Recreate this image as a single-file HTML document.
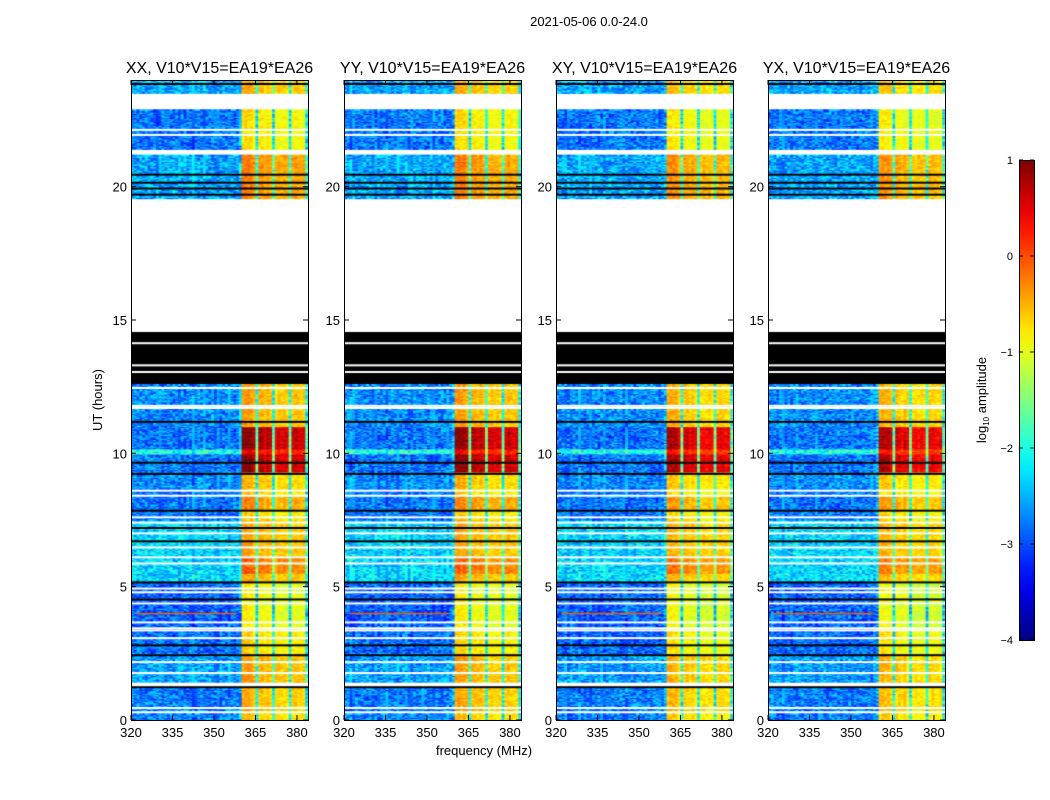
<!DOCTYPE html>
<html><head><meta charset="utf-8"><style>
body{margin:0;background:#fff;width:1050px;height:800px;overflow:hidden;position:relative;font-family:"Liberation Sans",sans-serif}
canvas{position:absolute}
svg{position:absolute;left:0;top:0}
</style></head><body>
<canvas id="c0" width="177" height="640" style="left:131px;top:80px"></canvas>
<canvas id="c1" width="177" height="640" style="left:344px;top:80px"></canvas>
<canvas id="c2" width="177" height="640" style="left:556px;top:80px"></canvas>
<canvas id="c3" width="177" height="640" style="left:768px;top:80px"></canvas>
<svg id="ov" width="1050" height="800"></svg>
<script>
// ---- data ----
const panelTitles = ["XX, V10*V15=EA19*EA26","YY, V10*V15=EA19*EA26","XY, V10*V15=EA19*EA26","YX, V10*V15=EA19*EA26"];
const panelLefts = [131,344,556,768];
const panelGain = [1.0,1.0,0.96,0.95];
// frequency channels 320..383 MHz (1 MHz each): band profile
const freqBand = [0,0,0,0,0,0,0,0,0,0, 0,0,0,0,0,0,0,0,0,0, 0,0,0,0,0,0,0,0,0,0, 0,0,0,0,0,0,0,0,0,0.2,
  2.2,2.25,2.2,2.2,2.1,0.7, 2.1,2.1,2.0,2.1,2.0,0.7, 1.95,2.0,1.95,2.0,1.95,0.7, 2.0,2.05,2.0,1.95,2.0,0.6, 0,0,0,0];
// time segments (hours): start, end, background log-amp, band gain, kind (0 data,1 white,2 black)
const segStart = [0,0.25,0.35,1.23,1.42,2.5,3.4,5.2,5.5,6.1,7.5,7.85,8.4,8.7,9.3,9.98,10.17,11.0,12.6,14.55,19.55,21.2,21.4,22.9,23.5];
const segEnd   = [0.25,0.35,1.23,1.42,2.5,3.4,5.2,5.5,6.1,7.5,7.85,8.4,8.7,9.3,9.98,10.17,11.0,12.6,14.55,19.55,21.2,21.4,22.9,23.5,24];
const segBg    = [-2.75,0,-2.75,0,-2.6,-2.85,-2.9,-2.3,-2.3,-2.3,-2.8,-2.8,-2.8,-2.7,-2.8,-2.0,-2.8,-2.7,0,0,-2.55,0,-2.8,0,-2.55];
const segGain  = [1.0,0,1.05,0,1.0,1.0,0.95,0.85,1.0,0.85,1.0,1.15,1.0,1.0,1.7,1.1,1.7,1.05,0,0,1.05,0,0.95,0,0.95];
const segKind  = [0,1,0,1,0,0,0,0,0,0,0,0,0,0,0,0,0,0,2,1,0,1,0,1,0];
// thin flag lines (hours)
const whiteLines = [0.45,1.76,2.17,3.07,3.36,3.44,3.66,4.37,4.79,4.93,5.87,6.1,6.47,7.0,7.4,7.6,8.41,8.6,11.7,11.78,12.45,13.05,13.3,14.13,21.94,22.13];
const blackLines = [1.23,2.43,2.8,4.52,5.16,6.7,7.2,7.85,9.23,9.65,11.18,19.7,19.93,20.15,20.45,23.85];
const redLines = [4.0];
const xTicks = [320,335,350,365,380];
const yTicks = [0,5,10,15,20];
const cbTicks = [1,0,-1,-2,-3,-4];

// ---- scales ----
const F0=320,F1=384,T0=0,T1=24,PW=177,PH=640,TOP=80;
const xs = f => (f-F0)/(F1-F0)*PW;
const ys = t => PH-(t-T0)/(T1-T0)*PH;
function jet(v){let t=(v+4)/5;t=Math.max(0,Math.min(1,t));
  const r=Math.max(0,Math.min(1,1.5-Math.abs(4*t-3))),g=Math.max(0,Math.min(1,1.5-Math.abs(4*t-2))),b=Math.max(0,Math.min(1,1.5-Math.abs(4*t-1)));
  return `rgb(${r*255|0},${g*255|0},${b*255|0})`;}
function hash(a,b,c){let h=(a*374761393+b*668265263+c*2147483647)|0;h=(h^(h>>>13))*1274126177|0;return ((h^(h>>>16))>>>0)/4294967296;}

for(let p=0;p<4;p++){
  const ctx=document.getElementById('c'+p).getContext('2d');
  const dt=0.05;
  for(let s=0;s<segStart.length;s++){
    const y0=ys(segEnd[s]),y1=ys(segStart[s]);
    if(segKind[s]===1){continue;}
    if(segKind[s]===2){ctx.fillStyle='#000';ctx.fillRect(0,y0,PW,y1-y0);continue;}
    for(let t=segStart[s];t<segEnd[s]-1e-9;t+=dt){
      const te=Math.min(t+dt,segEnd[s]);
      for(let c=0;c<freqBand.length;c++){
        const n=(hash(p,c,Math.round(t*100))-0.5)*1.0;
        const v=segBg[s]+freqBand[c]*segGain[s]*panelGain[p]+n*(freqBand[c]>1?0.4:1);
        ctx.fillStyle=jet(v);
        ctx.fillRect(xs(F0+c),ys(te),xs(F0+c+1)-xs(F0+c)+0.5,ys(t)-ys(te)+0.5);
      }
    }
  }
  ctx.fillStyle='#fff';whiteLines.forEach(h=>ctx.fillRect(0,ys(h)-1,PW,2));
  ctx.fillStyle='#000';blackLines.forEach(h=>ctx.fillRect(0,ys(h)-1,PW,2));
  ctx.fillStyle='#f06000';redLines.forEach(h=>ctx.fillRect(xs(322),ys(h)-0.5,xs(358)-xs(322),1.5));
}

// ---- overlay ----
const NS='http://www.w3.org/2000/svg',ov=document.getElementById('ov');
function el(tag,attrs,txt){const e=document.createElementNS(NS,tag);for(const k in attrs)e.setAttribute(k,attrs[k]);if(txt!==undefined)e.textContent=txt;ov.appendChild(e);return e;}
let e;
e=el('text',{x:589,y:26,'font-size':13,'text-anchor':'middle'},'2021-05-06 0.0-24.0');


e=el('text',{x:102,y:400,'font-size':13,'text-anchor':'middle',transform:'rotate(-90 102 400)'},'UT (hours)');


e=el('text',{x:484,y:755,'font-size':13,'text-anchor':'middle'},'frequency (MHz)');


for(let p=0;p<4;p++){
  const L=panelLefts[p];
  e=el('rect',{x:L+0.5,y:TOP+0.5,width:PW,height:PH,fill:'none',stroke:'#000','stroke-width':1});
  
  
  e=el('text',{x:L+PW/2,y:73,'font-size':16,'text-anchor':'middle'},panelTitles[p]);
  
  
  xTicks.forEach(f=>{const x=L+xs(f);
    el('line',{x1:x,x2:x,y1:TOP+PH,y2:TOP+PH-5,stroke:'#000'});el('line',{x1:x,x2:x,y1:TOP,y2:TOP+5,stroke:'#000'});
    e=el('text',{x:x,y:737,'font-size':13,'text-anchor':'middle'},String(f));
    
    });
  yTicks.forEach(h=>{const y=TOP+ys(h);
    el('line',{x1:L,x2:L+5,y1:y,y2:y,stroke:'#000'});el('line',{x1:L+PW,x2:L+PW-5,y1:y,y2:y,stroke:'#000'});
    e=el('text',{x:L-4,y:y+5,'font-size':13,'text-anchor':'end'},String(h));
    
    });
}
// colorbar
const defs=el('defs',{});const g=document.createElementNS(NS,'linearGradient');g.setAttribute('id','jg');g.setAttribute('x1',0);g.setAttribute('y1',1);g.setAttribute('x2',0);g.setAttribute('y2',0);defs.appendChild(g);
for(let i=0;i<=20;i++){const s=document.createElementNS(NS,'stop');s.setAttribute('offset',i/20);s.setAttribute('stop-color',jet(-4+5*i/20));g.appendChild(s);}
e=el('rect',{x:1019.5,y:160.5,width:15,height:480,fill:'url(#jg)',stroke:'#000'});


cbTicks.forEach(v=>{const y=160+(1-v)/5*480;
  el('line',{x1:1019,x2:1023,y1:y,y2:y,stroke:'#000'});el('line',{x1:1030,x2:1034,y1:y,y2:y,stroke:'#000'});
  e=el('text',{x:1013,y:y+4,'font-size':11,'text-anchor':'end'},v<0?'\u2212'+(-v):String(v));
  
  });
e=el('text',{x:986,y:400,'font-size':13,'text-anchor':'middle',transform:'rotate(-90 986 400)'});


e.innerHTML='log<tspan font-size="8" dy="3">10</tspan><tspan dy="-3"> amplitude</tspan>';
</script>
</body></html>
